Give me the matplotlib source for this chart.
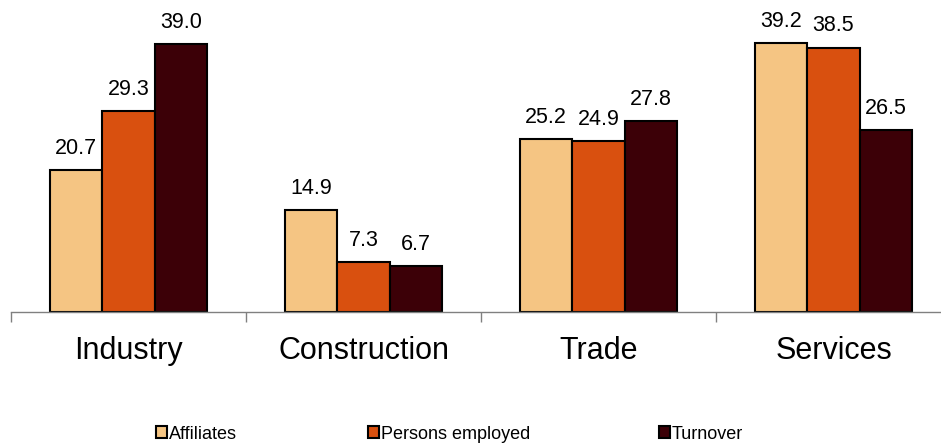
import matplotlib.pyplot as plt
import numpy as np

plt.rcParams['font.family'] = ['Liberation Sans', 'DejaVu Sans']

categories = ['Industry', 'Construction', 'Trade', 'Services']
series     = ['Affiliates', 'Persons employed', 'Turnover']
affiliates = [20.7, 14.9, 25.2, 39.2]
persons    = [29.3, 7.3, 24.9, 38.5]
turnover   = [39.0, 6.7, 27.8, 26.5]
colors     = ['#F5C583', '#D9500F', '#3C0007']

fig = plt.figure(figsize=(9.41, 4.44), dpi=100)
ax = fig.add_axes([11 / 941, 132 / 444, 940 / 941, 312 / 444])

x = np.arange(len(categories))
width = 0.2234
values = [affiliates, persons, turnover]
handles = []
for i, (vals, col) in enumerate(zip(values, colors)):
    bars = ax.bar(x + (i - 1) * width, vals, width, color=col,
                  edgecolor='black', linewidth=1.5, label=series[i])
    handles.append(bars)
    for b, v in zip(bars, vals):
        ax.annotate('%.1f' % v, (b.get_x() + b.get_width() / 2, v),
                    xytext=(0, 8), textcoords='offset points',
                    ha='center', va='bottom', fontsize=15.5)

ax.set_xlim(-0.5, 3.5)
ax.set_ylim(0, 312 / 6.87)
ax.set_yticks([])
for s in ['top', 'right', 'left']:
    ax.spines[s].set_visible(False)
ax.spines['bottom'].set_color('#808080')
ax.spines['bottom'].set_linewidth(1)

ax.set_xticks(np.arange(-0.5, 4.0, 1.0), minor=False)
ax.set_xticklabels([])
ax.tick_params(axis='x', which='major', length=7, color='#808080', width=1)
ax.set_xticks(x, minor=True)
ax.set_xticklabels(categories, minor=True, fontsize=22)
ax.tick_params(axis='x', which='minor', length=0, pad=17.5)

# legend entries placed individually to match the uneven spacing
leg_x = [156, 368, 659]
for h, xpos in zip(handles, leg_x):
    fig.legend([h], [h.get_label()], loc='center left',
               bbox_to_anchor=(xpos / 941, 1 - 434 / 444), frameon=False,
               fontsize=13, handlelength=0.6, handleheight=0.6,
               handletextpad=0.1, borderpad=0, borderaxespad=0)

fig.savefig('out.png', dpi=100)
